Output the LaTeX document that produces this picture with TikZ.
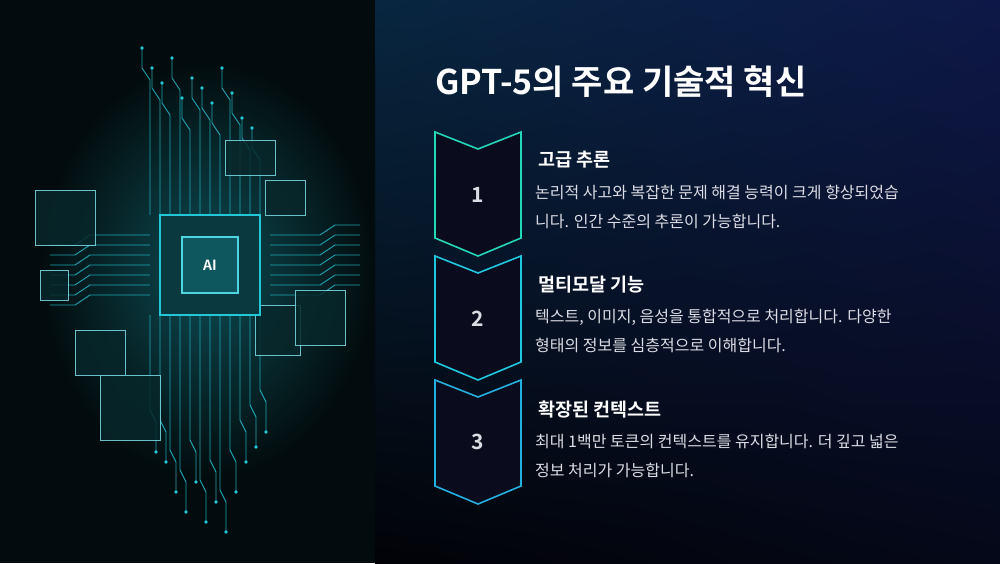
\documentclass[tikz,border=0pt]{standalone}
\usepackage{fontspec}
\setmainfont{Noto Sans CJK KR}
\newfontfamily\kb{Noto Sans CJK KR Bold}
\usetikzlibrary{shadings}
\definecolor{bgR}{HTML}{0A1030}
\definecolor{bgR2}{HTML}{0E1848}
\definecolor{bgL}{HTML}{020B0D}
\definecolor{cy}{HTML}{22C8D8}
\definecolor{c1}{HTML}{22D8B8}
\definecolor{c2}{HTML}{1EC8E0}
\definecolor{c3}{HTML}{22B0E0}
\definecolor{boxf}{HTML}{0A0B1C}
\definecolor{txt}{HTML}{DCDDE4}
\tikzset{
 chev/.style={line width=1.6pt, fill=boxf},
 num/.style={text=txt, font=\kb\fontsize{21}{24}\selectfont},
 head/.style={anchor=west, text=white, font=\kb\fontsize{18.5}{20}\selectfont},
 body/.style={anchor=north west, text=txt, font=\fontsize{16}{29}\selectfont, align=left, inner sep=0pt},
 wire/.style={cy, line width=0.9pt, opacity=0.8},
 panel/.style={draw=cy!60, fill=cy!15!bgL, line width=0.6pt, opacity=0.85}
}
\begin{document}
\begin{tikzpicture}[x=1pt,y=-1pt]
\useasboundingbox (0,0) rectangle (1000,563);
\shade[lower left=black!85!bgR, upper right=bgR2, lower right=bgR!50!black, upper left=bgR!80!teal] (375,0) rectangle (1000,563);
\fill[bgL] (0,0) rectangle (375,563);
\shade[inner color=cy!35!bgL, outer color=bgL] (40,60) rectangle (375,480);
% wires
\foreach \x/\t in {150/40,160/60,170/75,180/50,190/90,200/70,210/80,220/95,230/60,240/85,250/110,260/120} {
 \draw[wire] (\x,215) -- (\x,\t+40) -- ++(-8,-12) -- ++(0,-20);
 \fill[cy] (\x-8,\t+8) circle (1.8);
}
\foreach \x/\t in {150/460,160/470,170/500,180/520,190/490,200/530,210/510,220/540,230/500,240/470,250/455,260/440} {
 \draw[wire] (\x,315) -- (\x,\t-50) -- ++(6,12) -- ++(0,30);
 \fill[cy] (\x+6,\t-8) circle (1.8);
}
\foreach \y in {235,245,255,265,275,285,295} {
 \draw[wire] (150,\y) -- (90,\y) -- ++(-15,10) -- ++(-25,0);
 \draw[wire] (270,\y) -- (320,\y) -- ++(15,-10) -- ++(25,0);
}
% panels
\draw[panel] (35,190) rectangle (95,245);
\draw[panel] (40,270) rectangle (68,300);
\draw[panel] (75,330) rectangle (125,375);
\draw[panel] (100,375) rectangle (160,440);
\draw[panel] (225,140) rectangle (275,175);
\draw[panel] (265,180) rectangle (305,215);
\draw[panel] (255,305) rectangle (300,355);
\draw[panel] (295,290) rectangle (345,345);
% chip
\node[draw=cy, line width=2pt, fill=cy!25!bgL, minimum size=100pt] (chipo) at (210,265) {};
\node[draw=cy!80!white, line width=1.2pt, fill=cy!40!bgL, minimum size=56pt, text=white, font=\kb\fontsize{14}{14}\selectfont] (chip) at (210,265) {AI};
% title
\node[anchor=west, text=white, font=\kb\fontsize{34}{38}\selectfont, inner sep=0pt] (title) at (435,82) {GPT-5의 주요 기술적 혁신};
% chevrons
\draw[chev, draw=c1] (435,132) -- (478,149) -- (521,132) -- (521,238) -- (478,256) -- (435,238) -- cycle;
\draw[chev, draw=c2] (435,256) -- (478,273) -- (521,256) -- (521,362) -- (478,380) -- (435,362) -- cycle;
\draw[chev, draw=c3] (435,380) -- (478,397) -- (521,380) -- (521,486) -- (478,504) -- (435,486) -- cycle;
\node[num] (n1) at (478,195) {1};
\node[num] (n2) at (478,319) {2};
\node[num] (n3) at (478,442) {3};
\node[head] (h1) at (535,160) {고급 추론};
\node[head] (h2) at (535,285) {멀티모달 기능};
\node[head] (h3) at (535,409) {확장된 컨텍스트};
\node[body] (b1) at (535,185) {논리적 사고와 복잡한 문제 해결 능력이 크게 향상되었습\\니다. 인간 수준의 추론이 가능합니다.};
\node[body] (b2) at (535,309) {텍스트, 이미지, 음성을 통합적으로 처리합니다. 다양한\\형태의 정보를 심층적으로 이해합니다.};
\node[body] (b3) at (535,434) {최대 1백만 토큰의 컨텍스트를 유지합니다. 더 깊고 넓은\\정보 처리가 가능합니다.};
\end{tikzpicture}
\end{document}
